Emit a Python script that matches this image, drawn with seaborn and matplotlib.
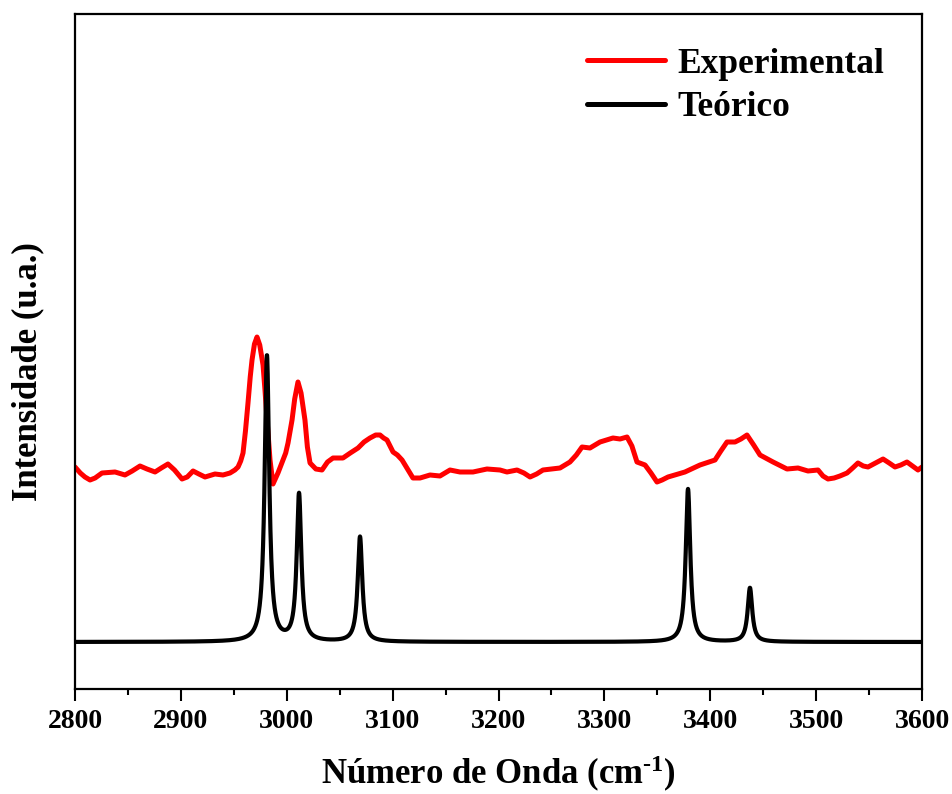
import numpy as np
import pandas as pd
import matplotlib
matplotlib.use("Agg")
import matplotlib.pyplot as plt
import seaborn as sns

# ---- Experimental spectrum (wavenumber, intensity in arbitrary units) ----
exp_x = [2800, 2805.0, 2809.4, 2814.2, 2819.0, 2825.5, 2837.8, 2847.2, 2854.0, 2861.4, 2868.0,
         2875.6, 2881.5, 2887.8, 2894.0, 2901.1, 2906.0, 2911.5, 2917.0, 2922.8, 2932.2,
         2939.8, 2946.4, 2951.0, 2954.0, 2956.5, 2958.7, 2961.0, 2963.4, 2965.5, 2967.2,
         2969.5, 2971.9, 2974.5, 2977.6, 2979.5, 2981.4, 2984.2, 2987.0, 2991.7, 2996.5,
         2999.0, 3001.2, 3003.2, 3005.0, 3007.5, 3010.6, 3013.5, 3017.2, 3019.5, 3022.0,
         3027.5, 3033.3, 3038.5, 3043.7, 3053.1, 3060.0, 3067.3, 3073.0, 3078.6, 3084.0,
         3088.1, 3091.5, 3094.7, 3097.5, 3100.4, 3104.5, 3108.9, 3114.0, 3119.2, 3125.9,
         3135.3, 3144.7, 3154.2, 3163.6, 3175.9, 3189.1, 3201.4, 3208.0, 3217.5, 3224.0,
         3229.8, 3236.0, 3242.0, 3258.1, 3267.5, 3273.5, 3278.9, 3286.4, 3295.9, 3308.1,
         3314.8, 3321.4, 3326.0, 3330.8, 3338.4, 3344.0, 3349.7, 3354.5, 3360.1, 3376.1,
         3390.3, 3404.5, 3410.0, 3415.8, 3423.4, 3429.0, 3434.7, 3441.0, 3447.0, 3459.3,
         3472.5, 3482.9, 3492.3, 3501.8, 3506.5, 3511.2, 3517.0, 3522.5, 3529.2, 3534.5,
         3539.5, 3544.5, 3549.0, 3556.0, 3563.2, 3569.0, 3574.5, 3580.0, 3585.8, 3591.0,
         3596.2, 3600]
exp_y = [222, 216, 212, 209, 211, 216, 217, 214, 218, 223, 220,
         217, 221, 225, 219, 210, 212, 218, 215, 212, 215,
         214, 216, 219, 222, 228, 236, 258, 286, 312, 329,
         345, 352, 344, 324, 298, 269, 229, 205, 216, 229,
         236, 246, 258, 269, 290, 307, 296, 269, 242, 226,
         220, 219, 227, 231, 231, 236, 241, 247, 251, 254,
         254, 251, 249, 243, 237, 234, 229, 220, 211, 211,
         214, 213, 219, 217, 217, 220, 219, 217, 219, 216,
         212, 215, 219, 221, 227, 234, 242, 241, 247, 251,
         250, 252, 243, 227, 224, 216, 207, 209, 212, 217,
         224, 229, 238, 247, 247, 250, 254, 244, 234, 227,
         220, 221, 218, 219, 213, 210, 211, 213, 216, 221,
         226, 223, 222, 226, 230, 226, 222, 224, 227, 223,
         219, 222]

# ---- Theoretical spectrum: computed bands (position, intensity), Lorentzian-broadened ----
theo_pos = [2981.3, 3011.6, 3069.2, 3379.0, 3437.5]
theo_int = [286, 147, 105, 153, 54]
theo_hwhm = 2.6
theo_base = 47

grid = np.linspace(2800, 3600, 4001)
theo_y = np.full_like(grid, theo_base, dtype=float)
for p, a in zip(theo_pos, theo_int):
    theo_y += a * theo_hwhm**2 / ((grid - p)**2 + theo_hwhm**2)

df_exp = pd.DataFrame({"x": exp_x, "y": exp_y})
df_theo = pd.DataFrame({"x": grid, "y": theo_y})

sns.set_theme(style="ticks")
plt.rcParams["font.family"] = ["Liberation Serif", "DejaVu Serif"]
plt.rcParams["font.weight"] = "bold"
plt.rcParams["text.color"] = "black"
plt.rcParams["axes.labelcolor"] = "black"
plt.rcParams["xtick.color"] = "black"
plt.rcParams["ytick.color"] = "black"
plt.rcParams["axes.unicode_minus"] = False
plt.rcParams["mathtext.fontset"] = "custom"
plt.rcParams["mathtext.rm"] = "Liberation Serif:bold"
plt.rcParams["mathtext.bf"] = "Liberation Serif:bold"
plt.rcParams["mathtext.it"] = "Liberation Serif:bold"
plt.rcParams["mathtext.default"] = "bf"

fig = plt.figure(figsize=(9.53, 7.94), dpi=100)
ax = fig.add_axes([75/953, 1-689/794, (922-75)/953, (689-14)/794])

sns.lineplot(data=df_exp, x="x", y="y", ax=ax, color="#ff0000", lw=3.6,
             label="Experimental", sort=False, estimator=None)
sns.lineplot(data=df_theo, x="x", y="y", ax=ax, color="black", lw=3.0,
             label="Teórico", sort=False, estimator=None)

ax.set_xlim(2800, 3600)
ax.set_ylim(0, 675)
ax.set_xticks(np.arange(2800, 3601, 100))
ax.set_xticks(np.arange(2850, 3600, 100), minor=True)
ax.set_yticks([])
ax.tick_params(axis="x", which="major", direction="out", length=8.5, width=1.5,
               labelsize=20, pad=6, colors="black")
ax.tick_params(axis="x", which="minor", direction="out", length=4.5, width=1.5)
for lab in ax.get_xticklabels():
    lab.set_fontweight("bold")
for s in ax.spines.values():
    s.set_visible(True)
    s.set_linewidth(1.6)
    s.set_color("black")

ax.set_xlabel("Número de Onda (cm$^{\\text{-1}}$)", fontsize=25, fontweight="bold", labelpad=14)
ax.set_ylabel("Intensidade (u.a.)", fontsize=25, fontweight="bold")
ax.yaxis.label.set_va("center")
ax.yaxis.set_label_coords(-0.0555, 0.47)

leg = ax.legend(loc="upper right", bbox_to_anchor=(0.985, 0.987), frameon=False,
                fontsize=25.5, handlelength=2.2, handletextpad=0.35, labelspacing=0.3,
                borderaxespad=0.3)
for line in leg.get_lines():
    line.set_linewidth(3.6)
for t in leg.get_texts():
    t.set_fontweight("bold")
    t.set_color("black")

fig.savefig("out.png", dpi=100)
